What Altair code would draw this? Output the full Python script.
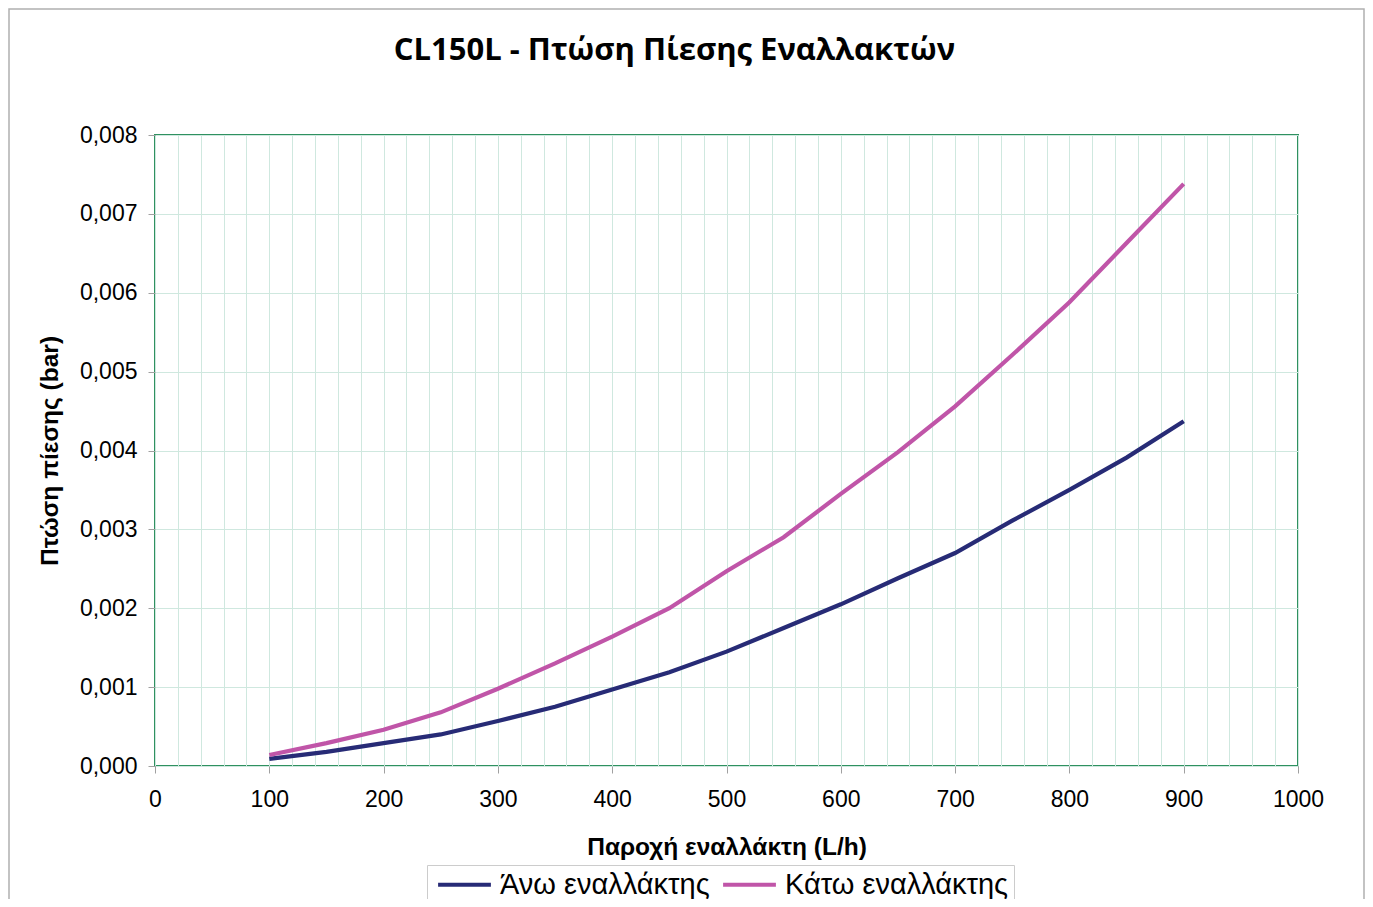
import altair as alt
import pandas as pd

flow = [100, 150, 200, 250, 300, 350, 400, 450, 500, 550, 600, 650, 700, 750, 800, 850, 900]
upper = [0.00009, 0.00018, 0.00029, 0.00040, 0.00057, 0.00075, 0.00097, 0.00119, 0.00145,
         0.00175, 0.00205, 0.00238, 0.00270, 0.00311, 0.00350, 0.00391, 0.00437]
lower = [0.00014, 0.00029, 0.00046, 0.00068, 0.00098, 0.00130, 0.00164, 0.00200, 0.00247,
         0.00290, 0.00345, 0.00398, 0.00456, 0.00521, 0.00588, 0.00663, 0.00738]
series_names = ["Άνω εναλλάκτης", "Κάτω εναλλάκτης"]
series_colors = ["#272b76", "#c055a8"]
x_label_ticks = [0, 100, 200, 300, 400, 500, 600, 700, 800, 900, 1000]
x_grid_ticks = list(range(0, 1001, 20))
y_ticks = [0.0, 0.001, 0.002, 0.003, 0.004, 0.005, 0.006, 0.007, 0.008]

rows = []
for f, u, l in zip(flow, upper, lower):
    rows.append({"flow": f, "dp": u, "series": series_names[0]})
    rows.append({"flow": f, "dp": l, "series": series_names[1]})
df = pd.DataFrame(rows)

GRID = "#cfe8df"
GREEN = "#2f9160"
xscale = alt.Scale(domain=[0, 1000], nice=False)
yscale = alt.Scale(domain=[0, 0.008], nice=False)

yaxis = alt.Axis(
    orient="left",
    values=y_ticks,
    labelExpr="replace(format(datum.value, '.3f'), '.', ',')",
    grid=True, gridColor=GRID, gridWidth=1,
    domain=False, tickColor="#a0a0a0", tickSize=7, tickWidth=1,
    labelFont="Liberation Sans", labelFontSize=23, labelColor="black", labelPadding=11,
    title="Πτώση πίεσης (bar)", titleFont="Liberation Sans", titleFontSize=24.5,
    titleFontWeight="bold", titleColor="black", titlePadding=17,
)

frame = alt.Chart(pd.DataFrame({"k": [0]})).mark_rect(
    fillOpacity=0, stroke="#b0b0b0", strokeWidth=1.5
).encode(
    x=alt.value(-146), x2=alt.value(1209), y=alt.value(-126), y2=alt.value(800)
)

grid_layer = alt.Chart(df).mark_point(opacity=0).encode(
    x=alt.X("flow:Q", scale=xscale,
            axis=alt.Axis(orient="bottom", values=x_grid_ticks, grid=True, gridColor=GRID,
                          gridWidth=1, labels=False, ticks=False, domain=False, title=None)),
    y=alt.Y("dp:Q", scale=yscale, axis=yaxis),
)

lines = alt.Chart(df).mark_line(strokeWidth=4.2).encode(
    x=alt.X("flow:Q", scale=xscale,
            axis=alt.Axis(orient="bottom", values=x_label_ticks, grid=False, domain=False,
                          format="d", labelFlush=False, labelOverlap=False,
                          tickColor="#a0a0a0", tickSize=7, tickWidth=1,
                          labelFont="Liberation Sans", labelFontSize=23, labelColor="black",
                          labelPadding=15,
                          title="Παροχή εναλλάκτη (L/h)", titleFont="Liberation Sans",
                          titleFontSize=24.5, titleFontWeight="bold", titleColor="black",
                          titlePadding=24)),
    y=alt.Y("dp:Q", scale=yscale, axis=yaxis),
    color=alt.Color("series:N",
                    scale=alt.Scale(domain=series_names, range=series_colors),
                    legend=alt.Legend(title=None, orient="none", legendX=272, legendY=730,
                                      direction="horizontal",
                                      symbolType="M-4.4,0H4.4", symbolSize=144,
                                      symbolStrokeWidth=4, symbolOffset=18,
                                      labelOffset=21, columnPadding=5, labelLimit=500,
                                      labelFont="Liberation Sans", labelFontSize=29,
                                      labelColor="black", strokeColor="#cccccc",
                                      padding=5)),
    detail="series:N",
)

chart = alt.layer(frame, grid_layer, lines).resolve_axis(x="independent").properties(
    width=1143, height=631,
    padding={"left": 147, "top": 127, "right": 67, "bottom": 133},
    autosize=alt.AutoSizeParams(type="none"),
    background="white",
    title=alt.TitleParams(
        text="CL150L - Πτώση Πίεσης Εναλλακτών",
        font="Open Sans", fontSize=31, fontWeight="bold", color="black",
        anchor="middle", dx=-52, offset=0, dy=83, baseline="alphabetic",
    ),
).configure_view(stroke=GREEN, strokeWidth=2)

chart.save("out.html", embed_options={"renderer": "svg", "actions": False})
